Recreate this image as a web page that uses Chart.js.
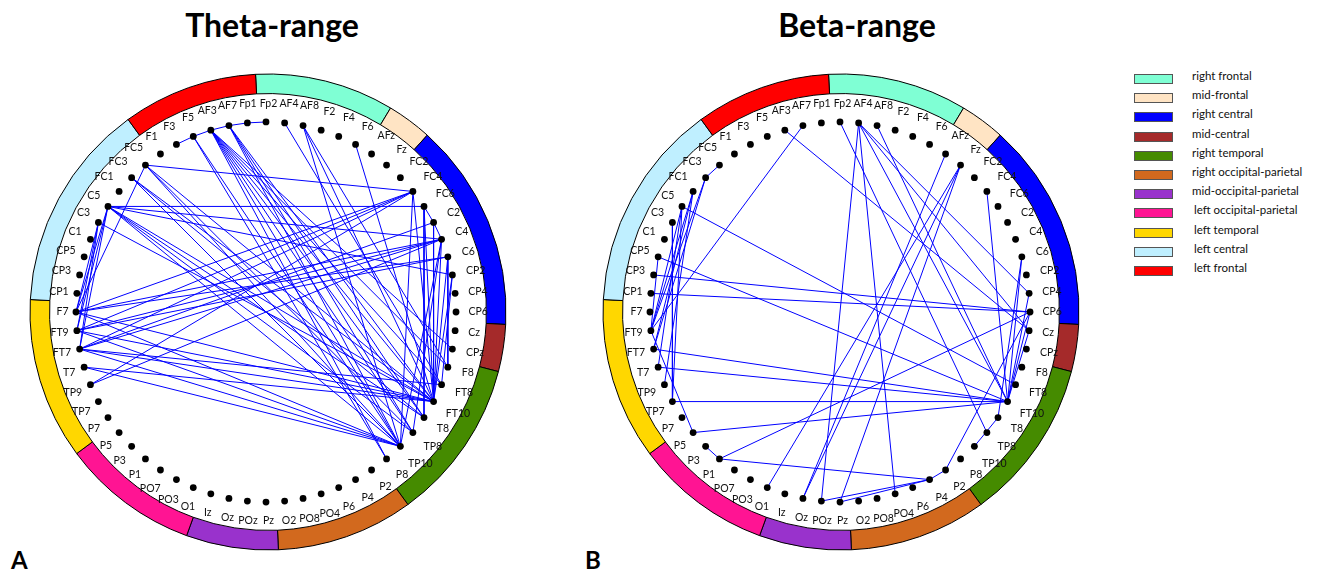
<!DOCTYPE html>
<html><head><meta charset="utf-8">
<script src="https://cdn.jsdelivr.net/npm/chart.js@4.4.0/dist/chart.umd.min.js"></script>
<style>
html,body{margin:0;padding:0;background:#fff;width:1321px;height:575px;overflow:hidden;font-family:Lato,"Open Sans",sans-serif;position:relative;}
canvas{position:absolute;}
.title{position:absolute;font-weight:bold;font-size:32px;color:#000;transform:translateX(-50%);white-space:nowrap;line-height:1;}
.panel{position:absolute;font-weight:bold;font-size:24px;line-height:1;}
#legend{position:absolute;left:1134px;top:74px;}
.row{position:relative;height:19.2px;}
.box{position:absolute;left:0;top:0;width:37px;height:8px;border:1px solid #555;}
.lab{position:absolute;left:58px;top:-5px;font-size:11.5px;white-space:nowrap;color:#111;}
</style></head><body>
<div class="title" style="left:272px;top:9px">Theta-range</div>
<div class="title" style="left:857px;top:9px">Beta-range</div>
<div class="panel" style="left:11px;top:548px">A</div>
<div class="panel" style="left:585px;top:548px">B</div>
<canvas id="ringA" width="500" height="500" style="left:18px;top:62px"></canvas>
<canvas id="ringB" width="500" height="500" style="left:591px;top:62px"></canvas>
<canvas id="netA" width="520" height="520" style="left:6px;top:52px"></canvas>
<canvas id="netB" width="520" height="520" style="left:580px;top:52px"></canvas>
<div id="legend"></div>
<script>
// ---------------- data ----------------
const ELECTRODES = ['Fp2','AF4','AF8','F2','F4','F6','AFz','Fz','FC2','FC4','FC6','C2','C4','C6','CP2','CP4','CP6','Cz','CPz','F8','FT8','FT10','T8','TP8','TP10','P8','P2','P4','P6','PO4','PO8','O2','Pz','POz','Oz','Iz','O1','PO3','PO7','P1','P3','P5','P7','TP7','TP9','T7','FT7','FT9','F7','CP1','CP3','CP5','C1','C3','C5','FC1','FC3','FC5','F1','F3','F5','AF3','AF7','Fp1'];

const REGIONS = ['right frontal','mid-frontal','right central','mid-central','right temporal','right occipital-parietal','mid-occipital-parietal','left occipital-parietal','left temporal','left central','left frontal'];
const REGION_SPAN = [34,11,51,11.5,39.5,33.5,22.5,33.5,39.5,51,33];
const REGION_COLORS = ['#7FFFD4','#FFE4C4','#0000FF','#A52A2A','#458B00','#D2691E','#9932CC','#FF1493','#FFD700','#BFEFFF','#FF0000'];
const RING_ROTATION = -3;

const THETA_LINKS = [
 ['F3','F5'],['F5','AF3'],['AF3','AF7'],['AF7','Fp1'],['Fp1','Fp2'],
 ['AF3','FT10'],['AF3','T8'],['AF3','TP8'],['AF3','TP10'],['AF3','P8'],['AF3','FT8'],['AF3','F8'],['AF3','CPz'],
 ['F5','TP10'],['F5','P8'],
 ['AF7','FT10'],['AF7','T8'],['AF7','TP10'],['AF7','TP8'],
 ['AF4','FT8'],['AF8','FT10'],['AF8','TP10'],['AF8','F8'],['F6','FT10'],
 ['FC5','FC4'],['FC5','FT10'],['FC5','TP10'],['FC5','TP8'],['FC5','F7'],
 ['FC3','FT10'],['FC3','T8'],['FC3','TP10'],
 ['C5','C4'],['C5','FC6'],['C5','CP2'],['C5','FT10'],['C5','TP10'],['C5','TP8'],['C5','T8'],['C5','F7'],['C5','FT9'],['C5','FT7'],
 ['C3','FT10'],['C3','F7'],['C3','FT9'],['C3','FT7'],
 ['F7','FC4'],['F7','C4'],['F7','C6'],['F7','FT10'],['F7','TP10'],
 ['FT9','FC4'],['FT9','C4'],['FT9','C6'],['FT9','FT10'],['FT9','TP10'],
 ['FT7','FC4'],['FT7','C4'],['FT7','C2'],['FT7','FT10'],['FT7','TP10'],['FT7','FT8'],
 ['T7','FT10'],['T7','TP10'],['TP9','FC4'],['TP9','C4'],
 ['FC4','FT10'],['FC4','TP10'],['FC6','FT10'],['FC6','T8'],['FC6','C2'],['C2','C4'],
 ['C4','FT10'],['C4','TP10'],['C4','TP8'],
 ['C2','FT10'],['C6','FT10'],['C6','F8'],['CP2','FT10'],['CP2','FT8']
];

const BETA_LINKS = [
 ['AF3','Cz'],['AF7','FT9'],['Fp2','TP8'],
 ['AF4','POz'],['AF4','PO4'],['AF4','Cz'],['AF4','CP4'],['AF4','FT10'],
 ['AF8','FT10'],['AFz','Oz'],['Fz','Oz'],['Fz','O1'],['Fz','Pz'],
 ['FC4','FT10'],['FC5','FC3'],['FC3','FT9'],['FC3','FT7'],
 ['FC1','FT9'],['FC1','FT7'],['FC1','TP9'],
 ['C5','FT9'],['C5','T7'],['C5','TP7'],['C5','FT8'],
 ['C3','TP7'],['CP5','FT9'],['CP5','FT10'],['CP3','CP6'],['CP1','CP6'],
 ['FT9','P5'],['FT7','FT10'],['T7','FT10'],['TP7','FT10'],['P5','FT10'],
 ['P3','P1'],['P1','CP6'],['P1','P4'],
 ['POz','P4'],['Pz','P4'],['P4','P2'],['P2','CP6'],['TP10','T8'],
 ['C6','T8'],['C6','FT10'],['CP4','FT10'],['Cz','FT10'],['CP6','FT10']
];

// ---------------- layout ----------------
const DOT_R_PX = 193;             // radius of electrode circle in px
const CANVAS_HALF = 260;
const LIM = CANVAS_HALF / DOT_R_PX;
const LABEL_SHIFT_X = 2.5;

function pos(name){
  const i = ELECTRODES.indexOf(name);
  const th = i * 2 * Math.PI / ELECTRODES.length;
  return {x: Math.sin(th), y: Math.cos(th)};
}

const labelPlugin = {
  id: 'electrodeLabels',
  afterDatasetsDraw(chart){
    const {ctx, scales:{x, y}} = chart;
    ctx.save();
    ctx.font = '10.5px Lato';
    ctx.fillStyle = '#111';
    ctx.textAlign = 'center';
    ctx.textBaseline = 'middle';
    ELECTRODES.forEach(name => {
      const p = pos(name);
      const s = p.x, c = p.y;
      const w = ctx.measureText(name).width, h = 10;
      const off = 10 + 3.5*Math.abs(c) + 0.5*(Math.abs(s)*w + Math.abs(c)*h);
      const px = x.getPixelForValue(s) + off*s + LABEL_SHIFT_X;
      const py = y.getPixelForValue(c) - off*c;
      ctx.fillText(name, px, py);
    });
    ctx.restore();
  }
};

function makeRing(id){
  new Chart(document.getElementById(id), {
    type: 'doughnut',
    data: {labels: REGIONS, datasets: [{data: REGION_SPAN, backgroundColor: REGION_COLORS, borderColor: '#000', borderWidth: 1}]},
    options: {responsive: false, animation: false, events: [], rotation: RING_ROTATION, radius: 238, cutout: 229,
      layout: {padding: 0}, plugins: {legend: {display: false}, tooltip: {enabled: false}}}
  });
}

function makeNet(id, links){
  const datasets = [{data: ELECTRODES.map(pos), showLine: false, pointRadius: 3.4, pointBackgroundColor: '#000', pointBorderColor: '#000', pointBorderWidth: 0}];
  links.forEach(([a, b]) => datasets.push({data: [pos(a), pos(b)], showLine: true, borderColor: '#0000ff', borderWidth: 1, pointRadius: 0}));
  new Chart(document.getElementById(id), {
    type: 'scatter',
    data: {datasets},
    options: {responsive: false, animation: false, events: [],
      layout: {padding: 0},
      plugins: {legend: {display: false}, tooltip: {enabled: false}},
      scales: {x: {type: 'linear', display: false, min: -LIM, max: LIM}, y: {type: 'linear', display: false, min: -LIM, max: LIM}}},
    plugins: [labelPlugin]
  });
}

makeRing('ringA'); makeRing('ringB');
makeNet('netA', THETA_LINKS);
makeNet('netB', BETA_LINKS);

// legend
const lg = document.getElementById('legend');
REGIONS.forEach((r, k) => {
  const row = document.createElement('div'); row.className = 'row';
  const b = document.createElement('div'); b.className = 'box'; b.style.background = REGION_COLORS[k];
  const t = document.createElement('div'); t.className = 'lab'; t.textContent = r;
  if (r.startsWith('left')) t.style.left = '60px';
  row.appendChild(b); row.appendChild(t); lg.appendChild(row);
});
</script>
</body></html>
